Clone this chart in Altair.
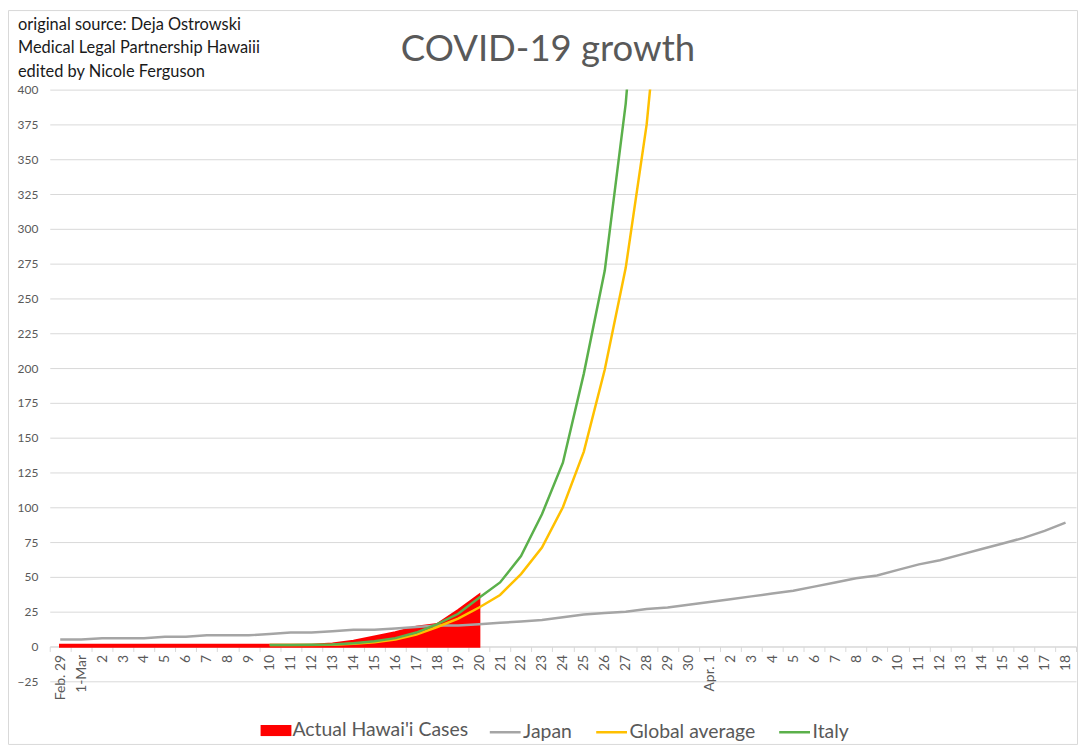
import json
import altair as alt
import pandas as pd

# ---------------- data ----------------
dates = (["Feb. 29", "1-Mar"] + [str(d) for d in range(2, 31)] +
         ["Apr. 1"] + [str(d) for d in range(2, 19)])

hawaii = [1, 1, 1, 1, 1, 1, 1, 1, 1, 1, 1, 1, 1, 2, 4, 7, 10, 14, 16, 26, 37]
japan = [5, 5, 6, 6, 6, 7, 7, 8, 8, 8, 9, 10, 10, 11, 12, 12, 13, 14, 15, 15,
         16, 17, 18, 19, 21, 23, 24, 25, 27, 28, 30, 32, 34, 36, 38, 40, 43,
         46, 49, 51, 55, 59, 62, 66, 70, 74, 78, 83, 89]
global_avg = [1, 1, 1.1, 1.3, 2, 3, 5, 8.5, 14, 20, 28, 37, 52, 71, 100, 140,
              199, 272, 375, 530]          # starts on Mar 10
italy = [1, 1.1, 1.2, 1.5, 2.4, 3.8, 6, 10, 16, 23.5, 35, 46, 65, 95, 132, 196,
         270, 390, 570]                    # starts on Mar 10
start_idx = 10

area_name = "Actual Hawai'i Cases"
area_color = "#ff0000"
line_names = ["Japan", "Global average", "Italy"]
line_colors = ["#a5a5a5", "#ffc000", "#5bb04b"]
y_ticks = list(range(-25, 401, 25))

title_text = "COVID-19 growth"
note_lines = ["original source: Deja Ostrowski",
              "Medical Legal Partnership Hawaiii",
              "edited by Nicole Ferguson"]

# ---------------- tables ----------------
idx = list(range(len(dates)))
area_df = pd.DataFrame({"i": idx[:len(hawaii)], "value": hawaii,
                        "series": area_name})
rows = []
for i, v in enumerate(japan):
    rows.append({"i": i, "value": v, "series": "Japan"})
for i, v in enumerate(global_avg):
    rows.append({"i": start_idx + i, "value": v, "series": "Global average"})
for i, v in enumerate(italy):
    rows.append({"i": start_idx + i, "value": v, "series": "Italy"})
line_df = pd.DataFrame(rows)

W, H = 1032, 595
grey = "#595959"
FONT = "Lato"

x_enc = alt.X("i:O", bandPosition=0.5,
              scale=alt.Scale(type="band", domain=idx, paddingInner=0,
                              paddingOuter=0),
              axis=alt.Axis(title=None, labelAngle=270, tickBand="extent",
                            offset=-35, domainColor="#d9d9d9",
                            tickColor="#d9d9d9", tickSize=5, grid=False,
                            labelExpr=json.dumps(dates) + "[datum.value]",
                            labelFontSize=14, labelColor=grey,
                            labelFont=FONT, labelPadding=3,
                            labelOverlap=False))
y_scale = alt.Scale(domain=[-25, 400], nice=False, zero=False)
y_axis = alt.Axis(title=None, values=y_ticks, domain=False, ticks=False,
                  gridColor="#d9d9d9", labelFontSize=12, labelColor=grey,
                  labelFont=FONT, labelPadding=12)

leg_common = dict(title=None, orient="none", direction="horizontal",
                  labelFontSize=19.5, labelColor=grey, labelFont=FONT,
                  labelOffset=1, labelLimit=400, symbolSize=961, padding=0)

area = alt.Chart(area_df).mark_area(
    stroke="#ff0000", strokeWidth=2.5, clip=True
).encode(
    x=x_enc,
    y=alt.Y("value:Q", scale=y_scale, axis=y_axis, stack=None),
    color=alt.Color("series:N",
                    scale=alt.Scale(domain=[area_name], range=[area_color]),
                    legend=alt.Legend(legendX=212, legendY=629,
                                      symbolType="M-1,-0.36H1V0.36H-1Z",
                                      symbolStrokeWidth=0, **leg_common)),
)

lines = alt.Chart(line_df).mark_line(strokeWidth=2.5, clip=True).encode(
    x=x_enc,
    y=alt.Y("value:Q", scale=y_scale, axis=y_axis),
    color=alt.Color("series:N",
                    scale=alt.Scale(domain=line_names, range=line_colors),
                    legend=alt.Legend(legendX=441, legendY=629, columns=3,
                                      columnPadding=18, symbolType="stroke",
                                      symbolStrokeWidth=2.5, **leg_common)),
    order="i:Q",
    detail="series:N",
)

note = alt.Chart(pd.DataFrame({"t": ["\n".join(note_lines)]})).mark_text(
    align="left", baseline="alphabetic", lineBreak="\n", lineHeight=23.5,
    fontSize=16.5, font=FONT, color="#1a1a1a"
).encode(x=alt.value(-32), y=alt.value(-60), text="t:N")

title = alt.Chart(pd.DataFrame({"t": [title_text]})).mark_text(
    align="center", baseline="alphabetic", fontSize=36.7, font=FONT, color=grey
).encode(x=alt.value(501), y=alt.value(-28.5), text="t:N")

frame = alt.Chart(pd.DataFrame({"a": [0]})).mark_rect(
    fill=None, stroke="#d9d9d9", strokeWidth=1
).encode(x=alt.value(-41.5), x2=alt.value(W + 1.5), y=alt.value(-79.5),
         y2=alt.value(H + 63.5))

chart = alt.layer(frame, area, lines, note, title).resolve_scale(
    color="independent"
).resolve_legend(color="independent").properties(
    width=W, height=H,
    padding={"left": 42, "top": 80, "right": 2, "bottom": 64},
    autosize=alt.AutoSizeParams(type="none"),
).configure_view(strokeWidth=0)

chart.save("out.html", embed_options={"renderer": "svg", "actions": False})
